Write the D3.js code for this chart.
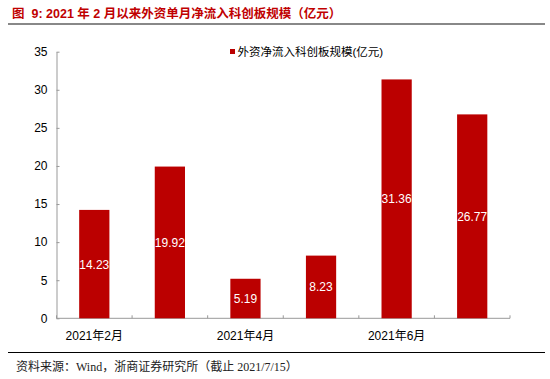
<!DOCTYPE html>
<meta charset="utf-8">
<style>
body{margin:0;background:#fff;}
svg text{font-family:"Liberation Sans","Noto Sans CJK SC",sans-serif;white-space:pre;}
</style>
<body>
<script src="https://d3js.org/d3.v7.min.js"></script>
<script>

var months=['2021年2月','2021年3月','2021年4月','2021年5月','2021年6月','2021年7月'];
var values=[14.23,19.92,5.19,8.23,31.36,26.77];
var yTicks=[0,5,10,15,20,25,30,35];
var shownLabels=['2021年2月','2021年4月','2021年6月'];
var seriesName='外资净流入科创板规模(亿元)';

var W=550,H=379;
var svg=d3.select("body").append("svg").attr("width",W).attr("height",H);

// title + rule
svg.append("text").attr("x",12).attr("y",18)
	.attr("fill","#c00000").attr("font-weight","bold").attr("font-size",12.5)
	.text("图  9: 2021 年 2 月以来外资单月净流入科创板规模（亿元）");
svg.append("line").attr("x1",8).attr("x2",545).attr("y1",24).attr("y2",24)
	.attr("stroke","#888").attr("stroke-width",2);

var pLeft=56.5,pRight=510,pTop=51.7,pBottom=318.3;

var x=d3.scaleBand().domain(months).range([pLeft,pRight]).paddingInner(0.6).paddingOuter(0.3);
var y=d3.scaleLinear().domain([0,35]).range([pBottom,pTop]);

// y axis
var ya=svg.append("g").attr("transform","translate("+pLeft+",0)")
	.call(d3.axisLeft(y).tickValues(yTicks).tickSizeInner(-3).tickSizeOuter(0).tickPadding(9));
ya.select(".domain").attr("stroke","#999");
ya.selectAll(".tick line").attr("stroke","#999");
ya.selectAll("text").attr("font-size",12).attr("fill","#000");

// x axis: ticks at band boundaries, pointing up
var step=x.step();
var xa=svg.append("g").attr("transform","translate(0,"+pBottom+")");
xa.append("line").attr("x1",pLeft).attr("x2",pRight).attr("stroke","#999");
xa.selectAll(".tk").data(d3.range(months.length+1)).enter().append("line")
	.attr("x1",i=>pLeft+i*step).attr("x2",i=>pLeft+i*step)
	.attr("y1",0).attr("y2",-3).attr("stroke","#999");
xa.selectAll(".lbl").data(shownLabels).enter().append("text")
	.attr("x",d=>x(d)+x.bandwidth()/2).attr("y",22)
	.attr("text-anchor","middle").attr("font-size",12).attr("fill","#000")
	.text(d=>d);

// bars
var bars=svg.selectAll(".bar").data(values).enter().append("g");
bars.append("rect")
	.attr("x",(d,i)=>x(months[i])).attr("width",x.bandwidth())
	.attr("y",d=>y(d)).attr("height",d=>y(0)-y(d))
	.attr("fill","#bb0000");
bars.append("text")
	.attr("x",(d,i)=>x(months[i])+x.bandwidth()/2)
	.attr("y",d=>(y(d)+y(0))/2+4.5)
	.attr("text-anchor","middle").attr("font-size",12).attr("fill","#fff")
	.text(d=>d.toFixed(2));

// legend
svg.append("rect").attr("x",230).attr("y",49).attr("width",5).attr("height",5).attr("fill","#bb0000");
svg.append("text").attr("x",237.5).attr("y",55.5).attr("font-size",11.5).attr("fill","#000")
	.text(seriesName);

// source
svg.append("line").attr("x1",8).attr("x2",545).attr("y1",352.5).attr("y2",352.5)
	.attr("stroke","#000").attr("stroke-width",1);
svg.append("text").attr("x",16).attr("y",371).attr("font-size",12).attr("fill","#222")
	.style("font-family","'Liberation Serif','Noto Sans CJK SC',serif")
	.text("资料来源：Wind，浙商证券研究所（截止 2021/7/15）");
</script>
</body>
</html>
